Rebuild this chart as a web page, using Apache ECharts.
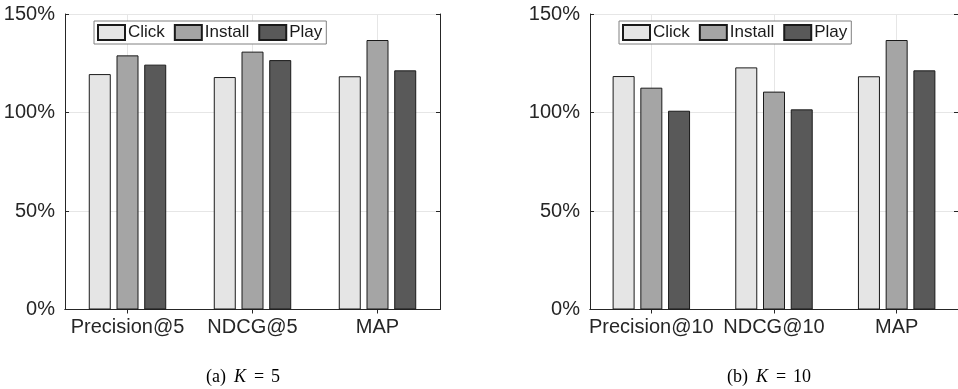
<!DOCTYPE html>
<html>
<head>
<meta charset="utf-8">
<script src="https://cdn.jsdelivr.net/npm/echarts@6/dist/echarts.min.js"></script>
<style>
html,body{margin:0;padding:0;background:#fff;}
#chart{width:958px;height:389px;}
</style>
</head>
<body>
<div id="chart"></div>
<script>
// ---- data ----
var seriesNames = ['Click', 'Install', 'Play'];
var categoriesA = ['Precision@5', 'NDCG@5', 'MAP'];
var categoriesB = ['Precision@10', 'NDCG@10', 'MAP'];
var clickA = [119.5, 118.0, 118.4];
var installA = [129.0, 130.9, 136.8];
var playA = [124.3, 126.6, 121.4];
var clickB = [118.5, 122.9, 118.4];
var installB = [112.6, 110.6, 136.8];
var playB = [100.9, 101.6, 121.4];
var yTicks = [0, 50, 100, 150];
var captionA = ['(a)', 'K', '=', '5'];
var captionB = ['(b)', 'K', '=', '10'];

var fills = ['#e5e5e5', '#a5a5a5', '#595959'];
var axisColor = '#262626';
var font = 'Liberation Sans, Arial, Helvetica, sans-serif';

var chart = echarts.init(document.getElementById('chart'), null, {renderer: 'canvas'});

function xBottom(idx, cats) {
  return {
    type: 'category', gridIndex: idx, data: cats, position: 'bottom',
    axisLine: {show: true, lineStyle: {color: axisColor, width: 1}},
    axisTick: {show: false},
    splitLine: {show: false},
    axisLabel: {color: axisColor, fontSize: 20, fontFamily: font, margin: 8, interval: 0}
  };
}
function xTop(idx, cats) {
  return {
    type: 'category', gridIndex: idx, data: cats, position: 'top',
    axisLine: {show: true, lineStyle: {color: axisColor, width: 1}},
    axisTick: {show: true, inside: true, alignWithLabel: true, length: 4, lineStyle: {color: axisColor}},
    splitLine: {show: true, alignWithLabel: true, lineStyle: {color: '#e6e6e6', width: 1}},
    axisLabel: {show: false}
  };
}
function yLeft(idx) {
  return {
    type: 'value', gridIndex: idx, min: yTicks[0], max: yTicks[yTicks.length - 1], interval: 50,
    position: 'left',
    axisLine: {show: true, lineStyle: {color: axisColor, width: 1}},
    axisTick: {show: true, inside: true, length: 4, lineStyle: {color: axisColor}},
    splitLine: {show: true, lineStyle: {color: '#e6e6e6', width: 1}},
    axisLabel: {color: axisColor, fontSize: 20, fontFamily: font, margin: 10, formatter: '{value}%'}
  };
}
function yRight(idx) {
  return {
    type: 'value', gridIndex: idx, min: yTicks[0], max: yTicks[yTicks.length - 1], interval: 50,
    position: 'right',
    axisLine: {show: true, lineStyle: {color: axisColor, width: 1}},
    axisTick: {show: true, inside: true, length: 4, lineStyle: {color: axisColor}},
    splitLine: {show: false},
    axisLabel: {show: false}
  };
}
function bar(name, data, i, axisIdx) {
  return {
    type: 'bar', name: name, data: data,
    xAxisIndex: axisIdx * 2, yAxisIndex: axisIdx * 2,
    barWidth: 22, barGap: '26%',
    itemStyle: {color: fills[i], borderColor: '#1a1a1a', borderWidth: 1},
    emphasis: {disabled: true},
    animation: false
  };
}
function legend(left) {
  return {
    data: seriesNames, left: left, top: 21, orient: 'horizontal', icon: 'rect',
    backgroundColor: '#ffffff', borderColor: '#808080', borderWidth: 1,
    padding: [3, 4, 3, 3], itemGap: 9, itemWidth: 27, itemHeight: 15,
    selectedMode: false,
    textStyle: {color: '#1a1a1a', fontSize: 17, fontFamily: font, padding: [0, 0, 0, -2]}
  };
}
function caption(cx, parts) {
  var serif = 'Liberation Serif';
  return {
    type: 'text', x: cx, y: 377, z: 100,
    style: {
      text: '{a|' + parts[0] + '}{k|' + parts[1] + '}{e|' + parts[2] + '}{n|' + parts[3] + '}',
      fill: '#000', fontFamily: serif, fontSize: 18,
      align: 'center', verticalAlign: 'middle',
      rich: {
        a: {fontFamily: serif, fontSize: 18, fill: '#000'},
        k: {fontFamily: serif, fontSize: 18, fontStyle: 'italic', fill: '#000', padding: [0, 0, 0, 8]},
        e: {fontFamily: serif, fontSize: 18, fill: '#000', padding: [0, 7, 0, 8]},
        n: {fontFamily: serif, fontSize: 18, fill: '#000'}
      }
    }
  };
}

var option = {
  animation: false,
  backgroundColor: '#ffffff',
  grid: [
    {left: 65, top: 14, width: 375, height: 295.5, show: false},
    {left: 590, top: 14, width: 378, height: 295.5, show: false}
  ],
  xAxis: [xBottom(0, categoriesA), xTop(0, categoriesA), xBottom(1, categoriesB), xTop(1, categoriesB)],
  yAxis: [yLeft(0), yRight(0), yLeft(1), yRight(1)],
  legend: [legend(94), legend(619)],
  series: [
    bar('Click', clickA, 0, 0), bar('Install', installA, 1, 0), bar('Play', playA, 2, 0),
    bar('Click', clickB, 0, 1), bar('Install', installB, 1, 1), bar('Play', playB, 2, 1)
  ],
  graphic: [caption(243, captionA), caption(769, captionB)]
};
chart.setOption(option);
</script>
</body>
</html>
